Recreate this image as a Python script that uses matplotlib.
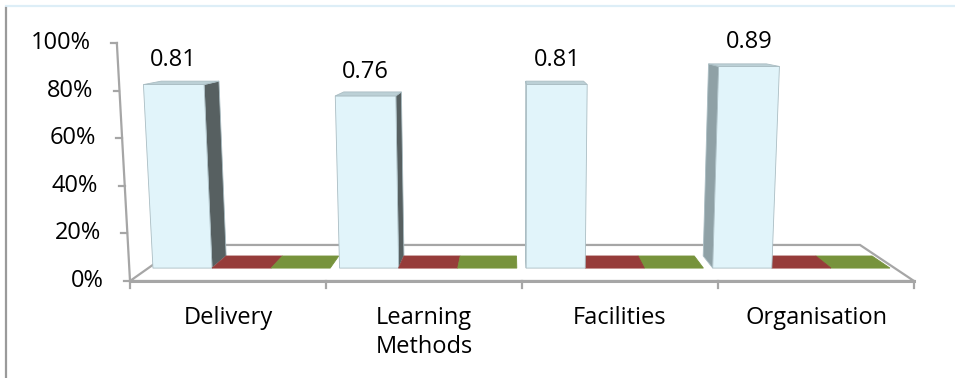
import matplotlib.pyplot as plt
from matplotlib.patches import Polygon
from matplotlib.lines import Line2D

plt.rcParams['font.family'] = ['Open Sans', 'DejaVu Sans']

categories = ["Delivery", "Learning\nMethods", "Facilities", "Organisation"]
series_a = [0.81, 0.76, 0.81, 0.89]
series_b = [0, 0, 0, 0]
series_c = [0, 0, 0, 0]
y_ticks = [0, 0.2, 0.4, 0.6, 0.8, 1.0]

# fake perspective (Excel style 3d column)
vx, vy = 1.944, 1.13
kk = 0.0345
s_front, s_back, s_floor = 0.952, 0.907, 0.866
grey = '#a6a6a6'
fs = 17


def P(x, v, s):
    return (vx + (x - vx) * s * (1 + kk * v * s), vy + (v - vy) * s)


def bar3d(ax, x0, x1, v, face, top, side_r, side_l, edge):
    polys = []
    if x1 < vx and v > 0:
        polys.append(([P(x1, 0, s_front), P(x1, 0, s_back), P(x1, v, s_back), P(x1, v, s_front)], side_r))
    if x0 > vx and v > 0:
        polys.append(([P(x0, 0, s_front), P(x0, 0, s_back), P(x0, v, s_back), P(x0, v, s_front)], side_l))
    if v > 0:
        polys.append(([P(x0, 0, s_front), P(x1, 0, s_front), P(x1, v, s_front), P(x0, v, s_front)], face))
    polys.append(([P(x0, v, s_front), P(x1, v, s_front), P(x1, v, s_back), P(x0, v, s_back)], top))
    for pts, c in polys:
        ax.add_patch(Polygon(pts, closed=True, facecolor=c, edgecolor=edge if v > 0 else c,
                             lw=0.6, clip_on=False, zorder=3))


fig = plt.figure(figsize=(9.55, 3.78), dpi=100)
ax = fig.add_axes([130 / 955, 97 / 378, 784 / 955, 238 / 378])
ax.set_xlim(0, 4)
ax.set_ylim(0, 1)
ax.axis('off')

# frame bits of the original chart area
fig.add_artist(Line2D([6 / 955, 1], [1 - 6 / 378, 1 - 6 / 378], color='#ddeef7', lw=1.6))
fig.add_artist(Line2D([6 / 955, 6 / 955], [0, 1 - 8 / 378], color='#9a9a9a', lw=1.6))

# floor
n = len(categories)
floor = [P(0, 0, 1), P(n, 0, 1), P(n, 0, s_floor), P(0, 0, s_floor)]
ax.add_patch(Polygon(floor, closed=True, facecolor='white', edgecolor=grey, lw=1.6,
                     clip_on=False, zorder=1))
ax.plot([P(0, 0, 1)[0], P(n, 0, 1)[0]], [0, 0], color=grey, lw=2.2, clip_on=False, zorder=2)

# category ticks and labels
for i in range(n + 1):
    ax.plot([i, i], [0, -0.03], color=grey, lw=1.6, clip_on=False, zorder=2)
for i, name in enumerate(categories):
    ax.annotate(name, xy=(i + 0.5, 0), xytext=(0, -18), textcoords='offset points',
                ha='center', va='top', fontsize=fs, linespacing=1.3, annotation_clip=False)

# y axis (leaning with perspective)
ya = [P(0, t, 1) for t in (0, 1)]
ax.plot([ya[0][0], ya[1][0]], [ya[0][1], ya[1][1]], color=grey, lw=1.6, clip_on=False, zorder=2)
for t in y_ticks:
    px, py = P(0, t, 1)
    ax.plot([px - 0.03, px], [py, py], color=grey, lw=1.6, clip_on=False, zorder=2)
    ax.annotate(f"{int(round(t * 100))}%", xy=(px, py), xytext=(-19, 0), textcoords='offset points',
                ha='right', va='center', fontsize=fs, annotation_clip=False)

# bars
gw = 0.95
bw = gw / 3
bars = []
for i in range(n):
    x0 = i + (1 - gw) / 2
    bars.append((x0, x0 + bw, series_a[i], '#e1f4fa', '#bcd0d6', '#576061', '#8fa1a6', '#aabdc3'))
    bars.append((x0 + bw, x0 + 2 * bw, series_b[i], '#963c3a', '#963c3a', '#963c3a', '#963c3a', '#963c3a'))
    bars.append((x0 + 2 * bw, x0 + 3 * bw, series_c[i], '#77933c', '#77933c', '#77933c', '#77933c', '#77933c'))
bars.sort(key=lambda b: -abs((b[0] + b[1]) / 2 - vx))
for b in bars:
    bar3d(ax, *b)

# data labels
for i, v in enumerate(series_a):
    x0 = i + (1 - gw) / 2
    tx, ty = P(x0 + bw / 2, v, s_front)
    ax.annotate(f"{v:.2f}", xy=(tx, ty), xytext=(0, 17.5), textcoords='offset points',
                ha='center', va='center', fontsize=fs, annotation_clip=False)

fig.savefig('out.png', dpi=100)
